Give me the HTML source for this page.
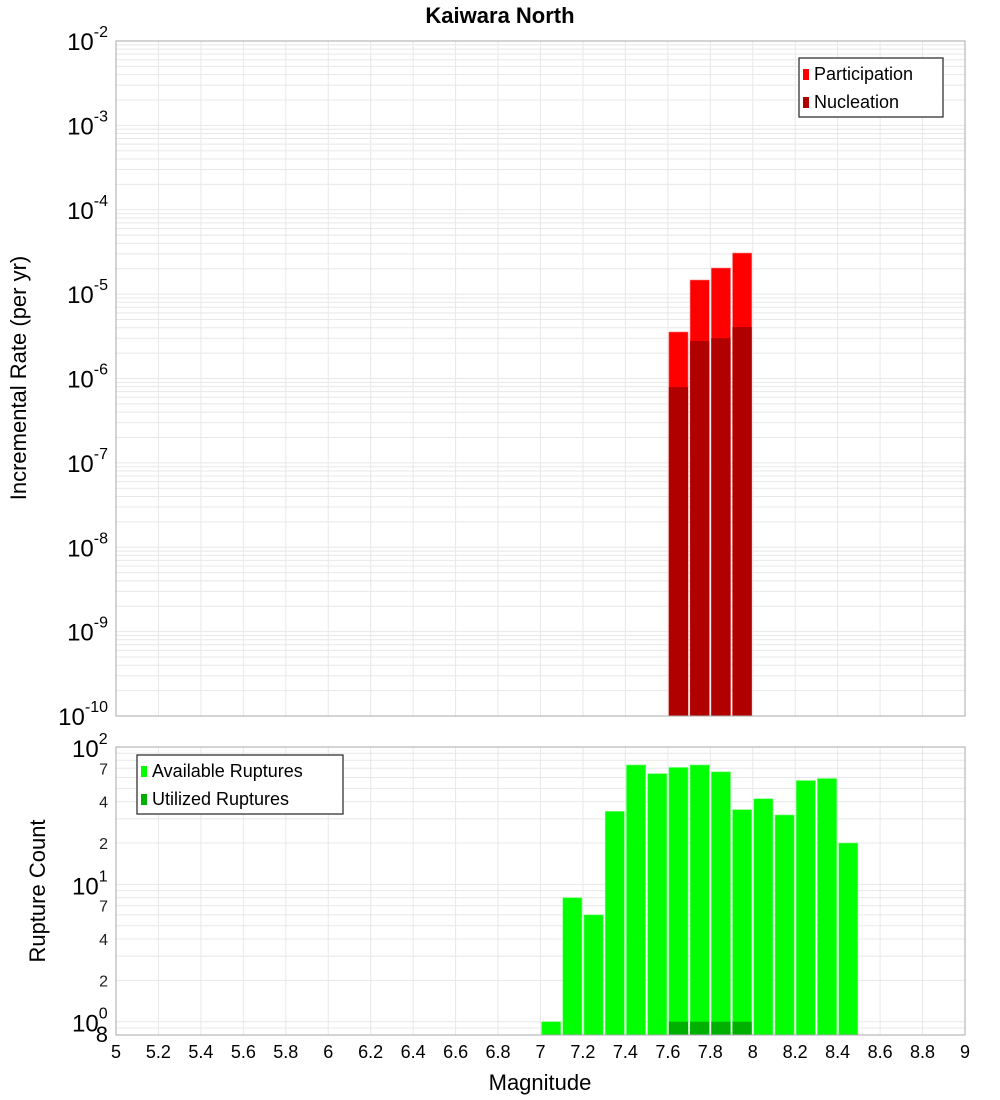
<!DOCTYPE html>
<html><head><meta charset="utf-8"><style>
body{margin:0;background:#fff;}
svg{display:block;font-family:"Liberation Sans",sans-serif;}
</style></head><body>
<svg id="c" width="1000" height="1100"></svg>
<script>
const mags=[5,5.2,5.4,5.6,5.8,6,6.2,6.4,6.6,6.8,7,7.2,7.4,7.6,7.8,8,8.2,8.4,8.6,8.8,9];
const magLabels=["5","5.2","5.4","5.6","5.8","6","6.2","6.4","6.6","6.8","7","7.2","7.4","7.6","7.8","8","8.2","8.4","8.6","8.8","9"];
const rateBins=[7.6,7.7,7.8,7.9];
const participation=[3.56e-6,1.47e-5,2.04e-5,3.07e-5];
const nucleation=[7.9e-7,2.78e-6,3.0e-6,4.07e-6];
const countBins=[7.0,7.1,7.2,7.3,7.4,7.5,7.6,7.7,7.8,7.9,8.0,8.1,8.2,8.3,8.4];
const available=[1,8,6,34,74,64,71,74,66,35,42,32,57,59,20];
const utilBins=[7.6,7.7,7.8,7.9];
const utilized=[1,1,1,1];
const topExp=[-2,-3,-4,-5,-6,-7,-8,-9,-10];
const botExp=[2,1,0];
const botMinor=[7,4,2];

const NS="http://www.w3.org/2000/svg";
const svg=document.getElementById('c');
function el(t,a,p){const e=document.createElementNS(NS,t);for(const k in a)e.setAttribute(k,a[k]);(p||svg).appendChild(e);return e;}
const X0=116,X1=965;
const x=m=>X0+(m-5)/4*(X1-X0);
const T0=41,T1=716;
const yTop=v=>T0+(-2-Math.log10(v))/8*(T1-T0);
const B0=747,B1=1035,bMin=Math.log10(0.8),bMax=2;
const yBot=v=>B0+(bMax-Math.log10(v))/(bMax-bMin)*(B1-B0);

// grids
function grid(y0,y1,yf,lo,hi){
  const g=el('g',{});
  
  
  mags.forEach(m=>el('line',{x1:x(m),x2:x(m),y1:y0,y2:y1,stroke:'#e8e8e8'},g));
  for(let e=lo;e<hi;e++)for(let k=1;k<10;k++){const v=k*Math.pow(10,e);const yy=yf(v);if(yy>=y0&&yy<=y1)el('line',{x1:X0,x2:X1,y1:yy,y2:yy,stroke:'#e8e8e8'},g);}
}
grid(T0,T1,yTop,-10,-2);
grid(B0,B1,yBot,-1,2);

// top bars
rateBins.forEach((m,i)=>{
  const r=el('rect',{x:x(m)+1,y:yTop(participation[i]),width:x(m+0.1)-x(m)-2,height:T1-yTop(participation[i]),fill:'#ff0000',stroke:'#ff8080','stroke-width':0.6});
  
  
});
rateBins.forEach((m,i)=>{
  const r=el('rect',{x:x(m)+1,y:yTop(nucleation[i]),width:x(m+0.1)-x(m)-2,height:T1-yTop(nucleation[i]),fill:'#b00000'});
  
  
});
// bottom bars
countBins.forEach((m,i)=>{
  const r=el('rect',{x:x(m)+1,y:yBot(available[i]),width:x(m+0.1)-x(m)-2,height:B1-yBot(available[i]),fill:'#00ff00',stroke:'#80ff80','stroke-width':0.6});
  
  
});
utilBins.forEach((m,i)=>{
  const r=el('rect',{x:x(m)+1,y:yBot(utilized[i]),width:x(m+0.1)-x(m)-2,height:B1-yBot(utilized[i]),fill:'#00b000'});
  
  
});

// frames
el('rect',{x:X0,y:T0,width:X1-X0,height:T1-T0,fill:'none',stroke:'#aaa'});
el('rect',{x:X0,y:B0,width:X1-X0,height:B1-B0,fill:'none',stroke:'#aaa'});

// top y labels
topExp.forEach(e=>{
  const t=el('text',{x:108,y:yTop(Math.pow(10,e))+9,'text-anchor':'end','font-size':24});
  
  
  t.innerHTML='10<tspan dy="-13" font-size="16">'+e+'</tspan>';
});
// bottom y labels
botExp.forEach(e=>{
  const t=el('text',{x:90,y:yBot(Math.pow(10,e))+10,'text-anchor':'start','font-size':24,'dx':-18});
  
  
  t.innerHTML='10<tspan dy="-13" font-size="16">'+e+'</tspan>';
});
[1,0].forEach(e=>botMinor.forEach(k=>{
  const t=el('text',{x:108,y:yBot(k*Math.pow(10,e))+6,'text-anchor':'end','font-size':16,fill:'#222'});
  
  
  t.textContent=k;
}));
{const t=el('text',{x:108,y:1042,'text-anchor':'end','font-size':22});t.textContent='8';}

// x labels
mags.forEach((m,i)=>{
  const t=el('text',{x:x(m),y:1058,'text-anchor':'middle','font-size':18});
  
  
  t.textContent=magLabels[i];
});

// titles
{const t=el('text',{x:500,y:23,'text-anchor':'middle','font-size':22,'font-weight':'bold'});t.textContent='Kaiwara North';}
{const t=el('text',{x:540,y:1090,'text-anchor':'middle','font-size':22});t.textContent='Magnitude';}
{const t=el('text',{x:0,y:0,'text-anchor':'middle','font-size':22,transform:'translate(26,378) rotate(-90)'});t.textContent='Incremental Rate (per yr)';}
{const t=el('text',{x:0,y:0,'text-anchor':'middle','font-size':22,transform:'translate(45,891) rotate(-90)'});t.textContent='Rupture Count';}

// legends
function legend(bx,by,w,h,items,name){
  const g=el('g',{});
  
  
  el('rect',{x:bx,y:by,width:w,height:h,fill:'#fff',stroke:'#333','stroke-width':1.3},g);
  items.forEach((it,i)=>{
    el('rect',{x:bx+4,y:by+11+i*28,width:6,height:11,fill:it[1]},g);
    const t=el('text',{x:bx+15,y:by+22+i*28,'font-size':18},g);
    t.textContent=it[0];
  });
}
legend(799,58,144,59,[['Participation','#ff0000'],['Nucleation','#b00000']],'top-legend');
legend(137,755,206,59,[['Available Ruptures','#00ff00'],['Utilized Ruptures','#00b000']],'bottom-legend');
</script>
</body></html>
